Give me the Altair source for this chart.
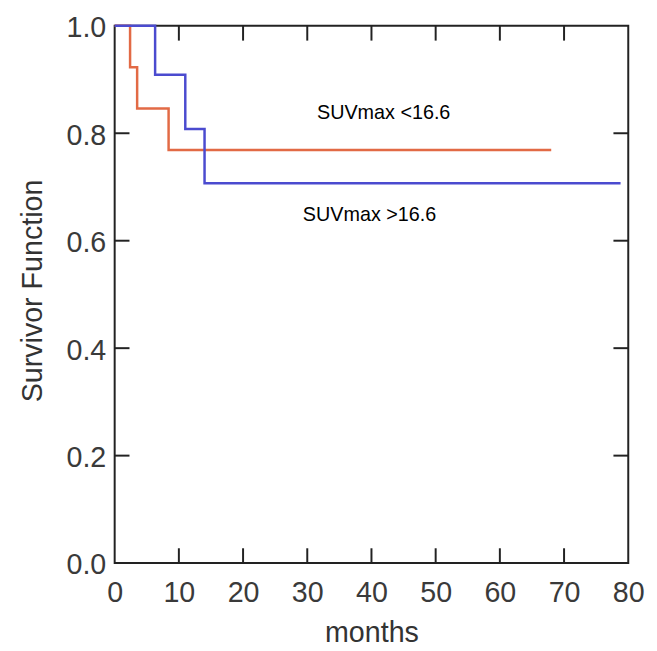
import altair as alt
import pandas as pd

# Kaplan-Meier curves
red_times = [0, 2.4, 3.5, 8.4, 68.0]
red_surv = [1.0, 0.923, 0.846, 0.769, 0.769]
blue_times = [0, 6.3, 11.0, 14.0, 78.8]
blue_surv = [1.0, 0.909, 0.808, 0.707, 0.707]

x_ticks = [0, 10, 20, 30, 40, 50, 60, 70, 80]
y_ticks = [0.0, 0.2, 0.4, 0.6, 0.8, 1.0]
x_inner = [10, 20, 30, 40, 50, 60, 70]
y_inner = [0.2, 0.4, 0.6, 0.8]

label_text = ["SUVmax <16.6", "SUVmax >16.6"]
label_x = [41.9, 39.7]
label_y = [0.827, 0.637]

W, H = 520, 544
TL = 15
FONT = "Liberation Sans"

red_df = pd.DataFrame({"t": red_times, "s": red_surv})
blue_df = pd.DataFrame({"t": blue_times, "s": blue_surv})
xt_df = pd.DataFrame({"v": x_inner})
yt_df = pd.DataFrame({"v": y_inner})
lab_df = pd.DataFrame({"x": label_x, "y": label_y, "text": label_text})

xscale = alt.Scale(domain=[0, 80], nice=False, zero=False)
yscale = alt.Scale(domain=[0, 1], nice=False, zero=False)

xaxis = alt.Axis(values=x_ticks, format="d", ticks=False, domain=False, grid=False,
                 labelFont=FONT, labelFontSize=29, labelColor="#3a3a3a", labelPadding=16,
                 labelFlush=False, labelOverlap=False,
                 title="months", titleFont=FONT, titleFontSize=29, titleFontWeight="normal",
                 titleColor="#333333", titleX=W / 2, titleY=79, titleBaseline="alphabetic")
yaxis = alt.Axis(values=y_ticks, format=".1f", ticks=False, domain=False, grid=False,
                 labelFont=FONT, labelFontSize=29, labelColor="#3a3a3a", labelPadding=9,
                 labelFlush=False, labelOverlap=False, labelOffset=2,
                 title="Survivor Function", titleFont=FONT, titleFontSize=29,
                 titleFontWeight="normal", titleColor="#333333",
                 titleX=-74, titleY=268, titleBaseline="alphabetic")

red = alt.Chart(red_df).mark_line(interpolate="step-after", color="#E26A45", strokeWidth=2.5).encode(
    x=alt.X("t:Q", scale=xscale, axis=xaxis),
    y=alt.Y("s:Q", scale=yscale, axis=yaxis),
)
blue = alt.Chart(blue_df).mark_line(interpolate="step-after", color="#4B4BCF", strokeWidth=2.5).encode(
    x=alt.X("t:Q", scale=xscale),
    y=alt.Y("s:Q", scale=yscale),
)

tick_style = dict(color="#222222", strokeWidth=2)
bottom_ticks = alt.Chart(xt_df).mark_rule(**tick_style).encode(
    x=alt.X("v:Q", scale=xscale), y=alt.value(H), y2=alt.value(H - TL))
top_ticks = alt.Chart(xt_df).mark_rule(**tick_style).encode(
    x=alt.X("v:Q", scale=xscale), y=alt.value(0), y2=alt.value(TL))
left_ticks = alt.Chart(yt_df).mark_rule(**tick_style).encode(
    y=alt.Y("v:Q", scale=yscale), x=alt.value(0), x2=alt.value(TL))
right_ticks = alt.Chart(yt_df).mark_rule(**tick_style).encode(
    y=alt.Y("v:Q", scale=yscale), x=alt.value(W - TL), x2=alt.value(W))

labels = alt.Chart(lab_df).mark_text(font=FONT, fontSize=20, color="#000000",
                                     align="center", baseline="alphabetic").encode(
    x=alt.X("x:Q", scale=xscale), y=alt.Y("y:Q", scale=yscale), text="text:N")

chart = alt.layer(red, blue, bottom_ticks, top_ticks, left_ticks, right_ticks, labels).properties(
    width=W, height=H,
    autosize=alt.AutoSizeParams(type="none"),
    padding={"left": 108, "top": 14, "right": 21, "bottom": 85},
    background="white",
).configure_view(stroke="#222222", strokeWidth=2)

chart.save("out.html", embed_options={"renderer": "svg", "actions": False})
